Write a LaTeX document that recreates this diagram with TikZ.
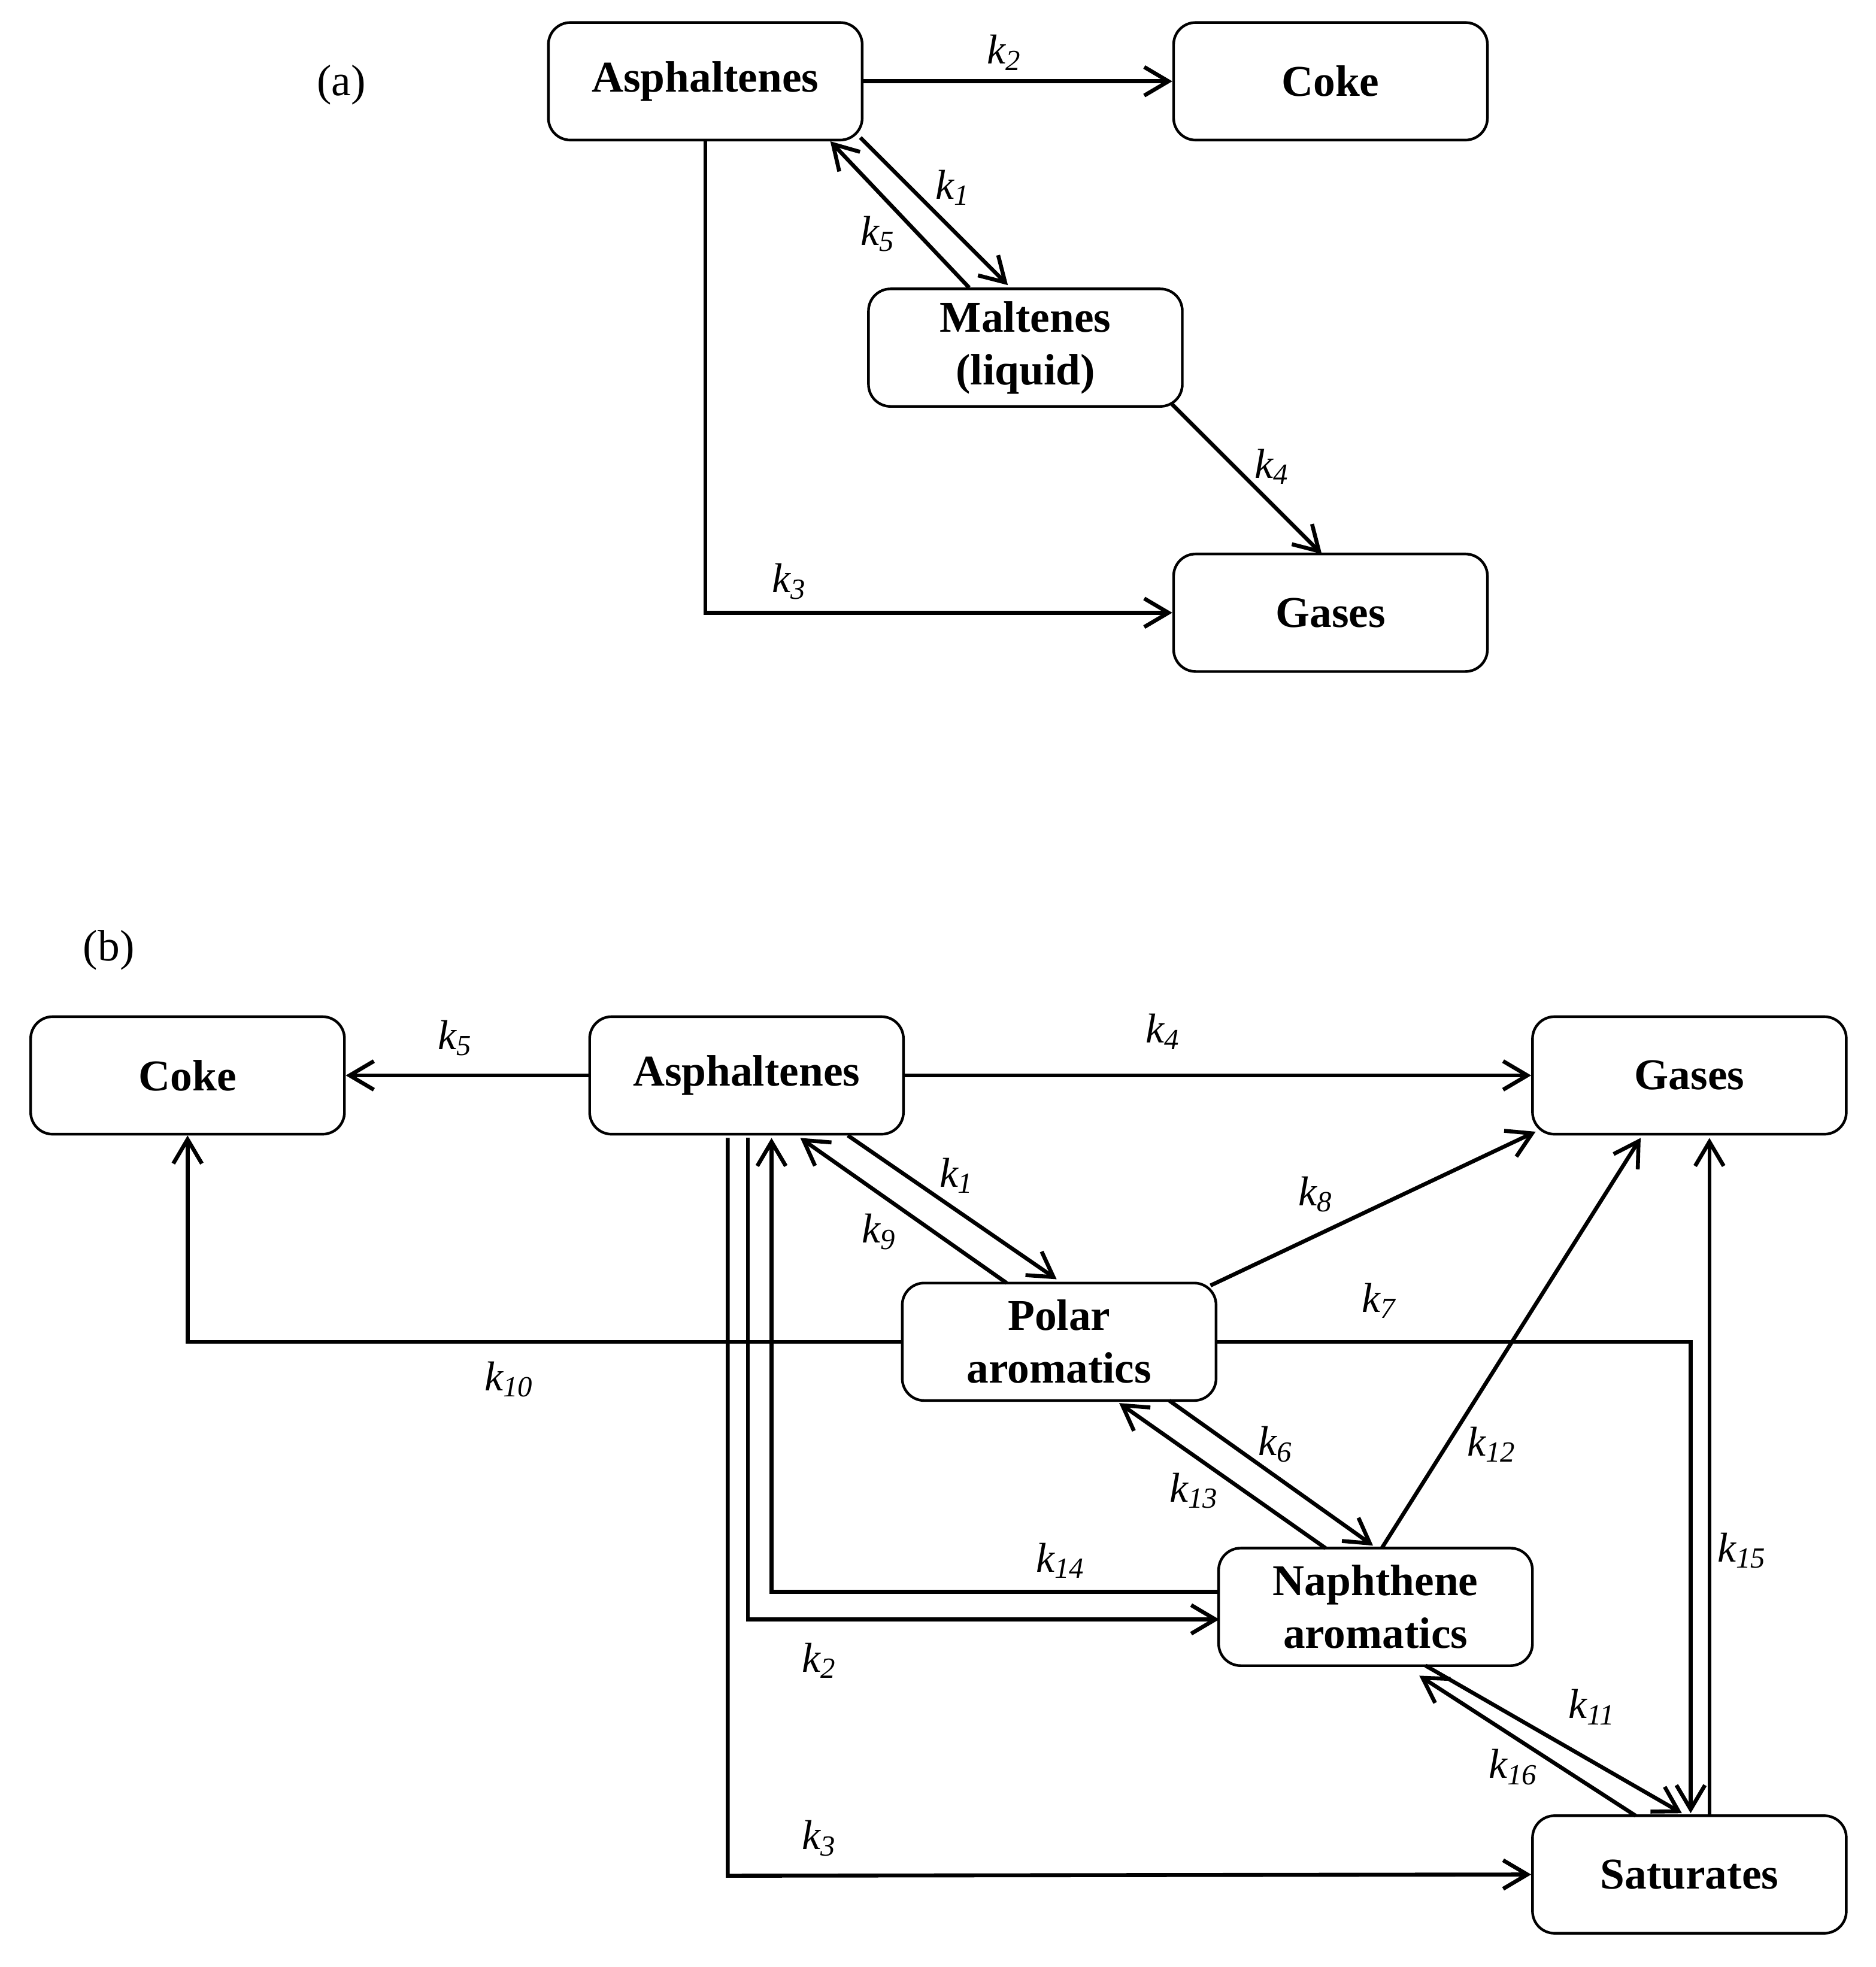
\documentclass[tikz,border=0pt]{standalone}
\usepackage{fontspec}
\setmainfont{Liberation Serif}
\usetikzlibrary{arrows.meta}
\begin{document}
\begin{tikzpicture}[x=0.02cm,y=-0.02cm,
 box/.style={draw,line width=1.2pt,rounded corners=10pt,minimum width=251\pgflinewidth,text width=4.4cm,align=center,minimum width=5.02cm,minimum height=1.88cm,font=\fontsize{20}{24}\selectfont\bfseries,inner sep=0pt},
 ar/.style={line width=1.8pt,-{Straight Barb[length=11pt,width=13pt,line width=1.8pt]}},
 kl/.style={font=\fontsize{19}{22}\selectfont\itshape}]
\useasboundingbox (0,0) rectangle (1500,1573);
% (a)
\node[font=\fontsize{20}{24}\selectfont] (la) at (273,68) {(a)};
\node[box] (aA) at (564,65) {Asphaltenes};
\node[box] (aC) at (1064,65) {Coke};
\node[box] (aM) at (820,278) {Maltenes\\(liquid)};
\node[box] (aG) at (1064,490) {Gases};
\draw[ar] (aA.east) -- (aC.west);
\draw[ar] (688,110) -- (806,228);
\draw[ar] (775,230) -- (664,113);
\draw[ar] (937,323) -- (1057,443);
\draw[ar] (aA.south) |- (aG.west);
\node[kl] at (803,42) {k\textsubscript{2}};
\node[kl] at (762,150) {k\textsubscript{1}};
\node[kl] at (702,187) {k\textsubscript{5}};
\node[kl] at (1017,373) {k\textsubscript{4}};
\node[kl] at (631,465) {k\textsubscript{3}};
% (b)
\node[font=\fontsize{20}{24}\selectfont] (lb) at (87,760) {(b)};
\node[box] (C) at (150,860) {Coke};
\node[box] (A) at (597,860) {Asphaltenes};
\node[box] (G) at (1351,860) {Gases};
\node[box] (P) at (847,1073) {Polar\\aromatics};
\node[box] (N) at (1100,1285) {Naphthene\\aromatics};
\node[box] (S) at (1351,1499) {Saturates};
\draw[ar] (A.west) -- (C.east);
\draw[ar] (A.east) -- (G.west);
\draw[ar] (678,908) -- (845,1023);
\draw[ar] (805,1026) -- (640,910);
\draw[ar] (968,1028) -- (1228,905);
\draw[ar] (P.east) -- (1352,1073) -- (1352,1450);
\draw[ar] (P.west) -- (150,1073) -- (C.south);
\draw[ar] (935,1120) -- (1098,1236);
\draw[ar] (1060,1238) -- (895,1122);
\draw[ar] (1105,1238) -- (1312,910);
\draw[ar] (1367,1452) -- (1367,910);
\draw[ar] (975,1273) -- (617,1273) -- (617,910);
\draw[ar] (598,910) -- (598,1295) -- (975,1295);
\draw[ar] (582,910) -- (582,1500) -- (S.west);
\draw[ar] (1140,1332) -- (1345,1450);
\draw[ar] (1308,1452) -- (1135,1340);
\node[kl] at (364,830) {k\textsubscript{5}};
\node[kl] at (930,825) {k\textsubscript{4}};
\node[kl] at (765,940) {k\textsubscript{1}};
\node[kl] at (703,985) {k\textsubscript{9}};
\node[kl] at (1052,955) {k\textsubscript{8}};
\node[kl] at (1103,1040) {k\textsubscript{7}};
\node[kl] at (407,1103) {k\textsubscript{10}};
\node[kl] at (1020,1155) {k\textsubscript{6}};
\node[kl] at (955,1192) {k\textsubscript{13}};
\node[kl] at (1193,1155) {k\textsubscript{12}};
\node[kl] at (1393,1240) {k\textsubscript{15}};
\node[kl] at (848,1248) {k\textsubscript{14}};
\node[kl] at (655,1328) {k\textsubscript{2}};
\node[kl] at (655,1470) {k\textsubscript{3}};
\node[kl] at (1273,1365) {k\textsubscript{11}};
\node[kl] at (1210,1413) {k\textsubscript{16}};
\end{tikzpicture}
\end{document}
